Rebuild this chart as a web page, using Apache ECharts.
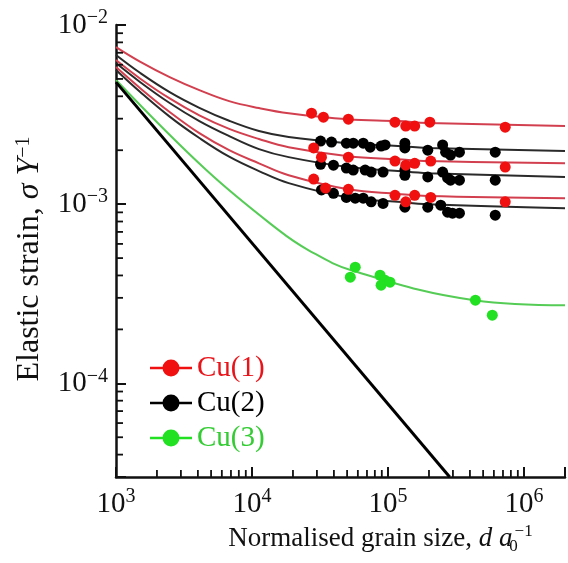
<!DOCTYPE html>
<html>
<head>
<meta charset="UTF-8">
<title>Elastic strain vs grain size</title>
<script src="https://cdn.jsdelivr.net/npm/echarts@6/dist/echarts.min.js"></script>
<style>
  body { margin: 0; padding: 0; background: #fff; }
  #main { width: 568px; height: 563px; }
</style>
</head>
<body>
<div id="main"></div>
<script>
// fitted curves
var curveX = [1e3, 1.5e3, 2.48e3, 4.1e3, 6.79e3, 1.125e4, 1.86e4, 5.11e4, 1.18e5, 1.96e5, 2e6];
var fitCu1a = [7.53e-3, 6.25e-3, 5.12e-3, 4.33e-3, 3.76e-3, 3.44e-3, 3.22e-3, 2.98e-3, 2.91e-3, 2.84e-3, 2.73e-3];
var fitCu2a = [6.80e-3, 5.41e-3, 4.22e-3, 3.45e-3, 2.92e-3, 2.56e-3, 2.37e-3, 2.19e-3, 2.11e-3, 2.06e-3, 1.98e-3];
var fitCu1b = [6.37e-3, 5.03e-3, 3.89e-3, 3.13e-3, 2.63e-3, 2.31e-3, 2.08e-3, 1.85e-3, 1.78e-3, 1.74e-3, 1.69e-3];
var fitCu2b = [6.13e-3, 4.81e-3, 3.67e-3, 2.91e-3, 2.40e-3, 2.03e-3, 1.83e-3, 1.61e-3, 1.53e-3, 1.49e-3, 1.42e-3];
var fitCu1c = [5.82e-3, 4.45e-3, 3.27e-3, 2.49e-3, 2.00e-3, 1.69e-3, 1.45e-3, 1.21e-3, 1.14e-3, 1.11e-3, 1.08e-3];
var fitCu2c = [5.61e-3, 4.24e-3, 3.08e-3, 2.34e-3, 1.84e-3, 1.53e-3, 1.31e-3, 1.09e-3, 1.03e-3, 1.00e-3, 9.5e-4];
var greenX = [1e3, 4.61e3, 1.57e4, 2.61e4, 5.37e4, 4.32e5, 2e6];
var fitCu3 = [4.93e-3, 1.55e-3, 7.16e-4, 5.53e-4, 4.28e-4, 2.91e-4, 2.73e-4];
var limitX = [1e3, 2.84e5];
var limitY = [4.8e-3, 3.0e-5];

// measured points
var cu1X = [2.74e4, 3.35e4, 5.11e4, 1.125e5, 1.35e5, 1.57e5, 2.03e5, 7.27e5,
            2.84e4, 3.24e4, 5.11e4, 1.125e5, 1.35e5, 1.57e5, 2.06e5, 7.27e5,
            2.84e4, 3.47e4, 5.11e4, 1.125e5, 1.35e5, 1.57e5, 2.06e5, 7.27e5];
var cu1Y = [3.22e-3, 3.06e-3, 2.98e-3, 2.87e-3, 2.73e-3, 2.73e-3, 2.87e-3, 2.69e-3,
            2.06e-3, 1.83e-3, 1.83e-3, 1.74e-3, 1.65e-3, 1.69e-3, 1.74e-3, 1.61e-3,
            1.38e-3, 1.23e-3, 1.21e-3, 1.12e-3, 1.03e-3, 1.12e-3, 1.09e-3, 1.03e-3];
var cu2X = [3.19e4, 3.84e4, 4.94e4, 5.55e4, 6.57e4, 7.39e4, 8.89e4, 9.51e4, 1.33e5, 1.33e5, 1.96e5, 2.52e5, 2.65e5, 2.88e5, 3.35e5, 6.14e5,
            3.19e4, 3.97e4, 4.94e4, 5.55e4, 6.79e4, 7.52e4, 9.19e4, 1.33e5, 1.33e5, 1.96e5, 2.52e5, 2.74e5, 2.88e5, 3.35e5, 6.14e5,
            3.24e4, 3.97e4, 4.94e4, 5.74e4, 6.57e4, 7.52e4, 9.19e4, 1.33e5, 1.96e5, 2.44e5, 2.74e5, 2.98e5, 3.35e5, 6.14e5];
var cu2Y = [2.25e-3, 2.22e-3, 2.19e-3, 2.19e-3, 2.19e-3, 2.08e-3, 2.11e-3, 2.14e-3, 2.19e-3, 2.06e-3, 2.00e-3, 2.14e-3, 1.95e-3, 1.88e-3, 1.95e-3, 1.95e-3,
            1.67e-3, 1.65e-3, 1.59e-3, 1.55e-3, 1.55e-3, 1.51e-3, 1.51e-3, 1.55e-3, 1.45e-3, 1.42e-3, 1.51e-3, 1.40e-3, 1.36e-3, 1.36e-3, 1.36e-3,
            1.20e-3, 1.15e-3, 1.09e-3, 1.08e-3, 1.08e-3, 1.03e-3, 1.01e-3, 9.62e-4, 9.62e-4, 9.87e-4, 9.02e-4, 8.91e-4, 8.91e-4, 8.68e-4];
var cu3X = [5.74e4, 5.28e4, 8.74e4, 9.51e4, 8.89e4, 1.034e5, 4.39e5, 5.84e5];
var cu3Y = [4.45e-4, 3.91e-4, 4.01e-4, 3.76e-4, 3.53e-4, 3.67e-4, 2.91e-4, 2.40e-4];

// minor tick positions
var minorX = [2e3, 3e3, 4e3, 5e3, 6e3, 7e3, 8e3, 9e3,
              2e4, 3e4, 4e4, 5e4, 6e4, 7e4, 8e4, 9e4,
              2e5, 3e5, 4e5, 5e5, 6e5, 7e5, 8e5, 9e5];
var minorY = [4e-5, 5e-5, 6e-5, 7e-5, 8e-5, 9e-5,
              2e-4, 3e-4, 4e-4, 5e-4, 6e-4, 7e-4, 8e-4, 9e-4,
              2e-3, 3e-3, 4e-3, 5e-3, 6e-3, 7e-3, 8e-3, 9e-3];

var X_MIN = 1e3, X_MAX = 2e6, Y_MIN = 3e-5, Y_MAX = 1e-2;

function zip(xs, ys) {
    return xs.map(function (x, i) { return [x, ys[i]]; });
}

function powLabel(value) {
    var e = Math.log10(value);
    var r = Math.round(e);
    if (Math.abs(e - r) > 1e-6) return '';
    return '{b|10}{s|' + (r < 0 ? '\u2212' + (-r) : r) + '}';
}

var serif = 'Liberation Serif';
var labelRich = {
    b: { fontFamily: serif, fontSize: 29, lineHeight: 34, color: '#111' },
    s: { fontFamily: serif, fontSize: 20, lineHeight: 20, verticalAlign: 'top', color: '#111' }
};

var RED_LINE = '#d2404f', BLACK_LINE = '#2a2a2a', GREEN_LINE = '#55cc55';
var RED = '#f01010', BLACK = '#000000', GREEN = '#22e022';

function fitLine(data, color) {
    return {
        type: 'line', data: data, smooth: 0.4, showSymbol: false, symbol: 'none',
        lineStyle: { color: color, width: 2 }, silent: true, z: 2
    };
}

// legend mark: short line with a dot in the middle
var dotIcon = 'path://M0,7.75L42,7.75L42,10.25L0,10.25Z M29.5,9A8.5,8.5 0 1,1 12.5,9A8.5,8.5 0 1,1 29.5,9Z';

var chart = echarts.init(document.getElementById('main'));

var option = {
    animation: false,
    backgroundColor: '#fff',
    grid: { left: 116, top: 25, right: 0, bottom: 86 },
    legend: {
        orient: 'vertical', left: 145, top: 348, itemGap: 5,
        itemWidth: 42, itemHeight: 17, icon: dotIcon,
        textStyle: { fontFamily: serif, fontSize: 29, lineHeight: 30 },
        data: [
            { name: 'Cu(1)', textStyle: { color: '#e8141a' } },
            { name: 'Cu(2)', textStyle: { color: '#000' } },
            { name: 'Cu(3)', textStyle: { color: '#33cc33' } }
        ]
    },
    xAxis: {
        type: 'log', logBase: 10, min: X_MIN, max: X_MAX,
        name: 'Normalised grain size, {i|d a}{sub|0}{sup|\u22121}',
        nameLocation: 'middle', nameGap: 38,
        nameTextStyle: {
            fontFamily: serif, fontSize: 27, color: '#111', padding: [0, 0, 0, 80],
            rich: {
                i: { fontFamily: serif, fontSize: 27, fontStyle: 'italic', color: '#111' },
                sub: { fontFamily: serif, fontSize: 17, verticalAlign: 'bottom', lineHeight: 32, width: 2, color: '#111' },
                sup: { fontFamily: serif, fontSize: 17, verticalAlign: 'top', lineHeight: 17, color: '#111' }
            }
        },
        axisLine: { lineStyle: { color: '#111', width: 2.5 } },
        axisTick: { inside: true, length: 10, lineStyle: { color: '#111', width: 2 } },
        axisLabel: { formatter: powLabel, rich: labelRich, margin: 10, showMaxLabel: true },
        splitLine: { show: false }
    },
    yAxis: {
        type: 'log', logBase: 10, min: Y_MIN, max: Y_MAX,
        name: 'Elastic strain, {i|\u03c3 Y}{sup|\u22121}',
        nameLocation: 'middle', nameGap: 70, nameRotate: 90,
        nameTextStyle: {
            fontFamily: serif, fontSize: 32, color: '#111', padding: [0, 16, 0, 0],
            rich: {
                i: { fontFamily: serif, fontSize: 32, fontStyle: 'italic', color: '#111' },
                sup: { fontFamily: serif, fontSize: 20, verticalAlign: 'top', lineHeight: 20, color: '#111' }
            }
        },
        axisLine: { lineStyle: { color: '#111', width: 2.5 } },
        axisTick: { inside: true, length: 10, lineStyle: { color: '#111', width: 2 } },
        axisLabel: { formatter: powLabel, rich: labelRich, margin: 8 },
        splitLine: { show: false }
    },
    series: [
        fitLine(zip(curveX, fitCu1a), RED_LINE),
        fitLine(zip(curveX, fitCu2a), BLACK_LINE),
        fitLine(zip(curveX, fitCu1b), RED_LINE),
        fitLine(zip(curveX, fitCu2b), BLACK_LINE),
        fitLine(zip(curveX, fitCu1c), RED_LINE),
        fitLine(zip(curveX, fitCu2c), BLACK_LINE),
        fitLine(zip(greenX, fitCu3), GREEN_LINE),
        {
            type: 'line', data: zip(limitX, limitY), showSymbol: false, symbol: 'none',
            lineStyle: { color: '#000', width: 3 }, silent: true, z: 2
        },
        { name: 'Cu(1)', type: 'scatter', data: zip(cu1X, cu1Y), symbolSize: 11, itemStyle: { color: RED, opacity: 1 }, z: 5 },
        { name: 'Cu(2)', type: 'scatter', data: zip(cu2X, cu2Y), symbolSize: 11, itemStyle: { color: BLACK, opacity: 1 }, z: 4 },
        { name: 'Cu(3)', type: 'scatter', data: zip(cu3X, cu3Y), symbolSize: 11, itemStyle: { color: GREEN, opacity: 1 }, z: 5 },
        {
            // log-spaced minor ticks on the x axis
            type: 'custom', silent: true, z: 6,
            data: minorX.map(function (v) { return [v, Y_MIN]; }),
            renderItem: function (params, api) {
                var p = api.coord([api.value(0), api.value(1)]);
                return { type: 'line', shape: { x1: p[0], y1: p[1], x2: p[0], y2: p[1] - 7 },
                         style: { stroke: '#111', lineWidth: 1.8 } };
            }
        },
        {
            // log-spaced minor ticks on the y axis
            type: 'custom', silent: true, z: 6,
            data: minorY.map(function (v) { return [X_MIN, v]; }),
            renderItem: function (params, api) {
                var p = api.coord([api.value(0), api.value(1)]);
                return { type: 'line', shape: { x1: p[0], y1: p[1], x2: p[0] + 7, y2: p[1] },
                         style: { stroke: '#111', lineWidth: 1.8 } };
            }
        }
    ]
};

chart.setOption(option);
</script>
</body>
</html>
